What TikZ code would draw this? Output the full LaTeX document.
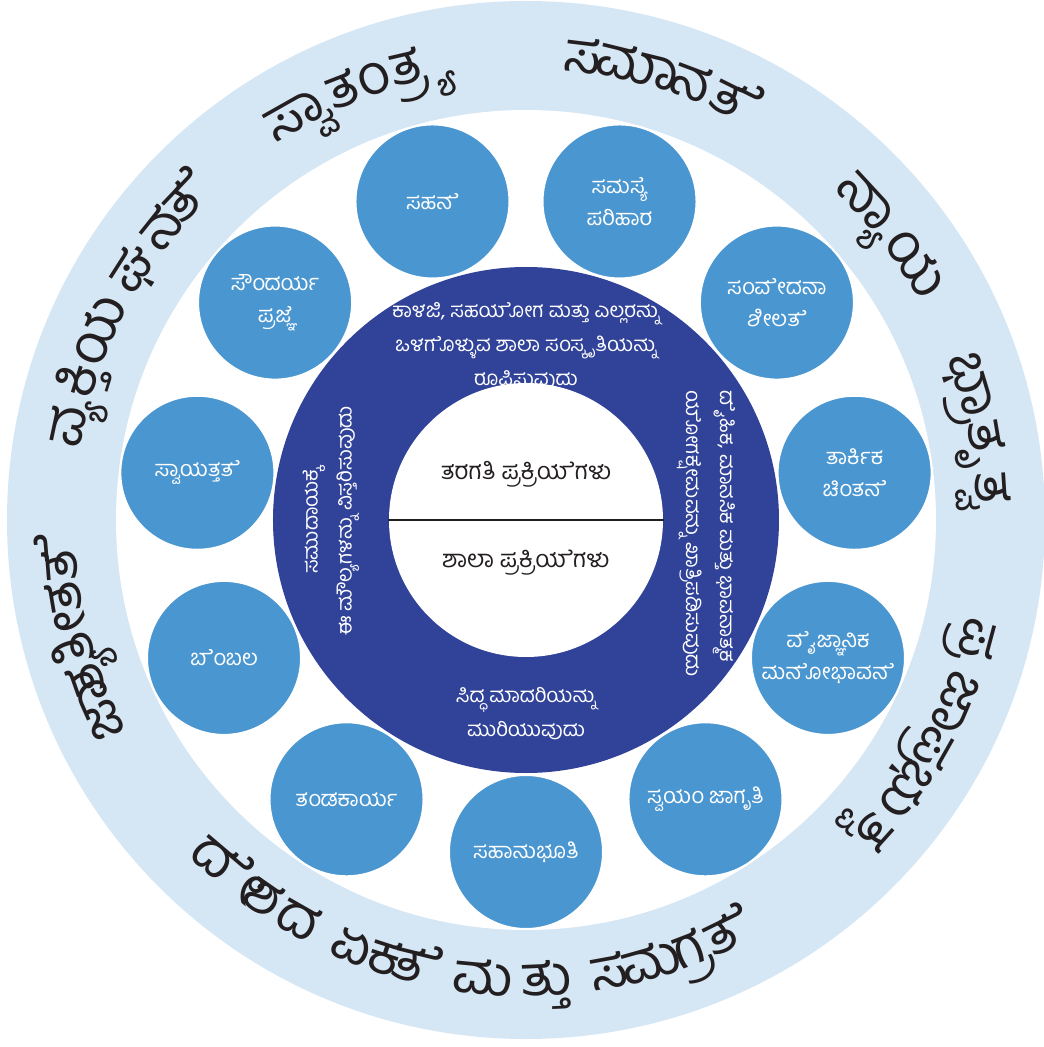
\documentclass[tikz,border=0pt]{standalone}
\usepackage{fontspec}
\newfontfamily\kn[Script=Kannada]{Hind Mysuru}
\definecolor{ringlight}{HTML}{D5E6F4}
\definecolor{circblue}{HTML}{4A96D0}
\definecolor{ringdark}{HTML}{314299}
\definecolor{inkdark}{HTML}{231F20}
\newcommand\outerfont{\kn\fontsize{56}{56}\selectfont}
\begin{document}
\begin{tikzpicture}[x=1pt,y=1pt,
  outertext/.style={font=\outerfont, text=inkdark, inner sep=0pt, anchor=base},
  valcircle/.style={circle, fill=circblue, draw=white, line width=2pt, minimum size=154pt, inner sep=0pt,
    text=white, align=center, font=\kn\fontsize{22}{32}\selectfont},
  ringtext/.style={text=white, inner sep=0pt, font=\kn\fontsize{20.5}{34}\selectfont},
  coretext/.style={text=inkdark, inner sep=0pt, font=\kn\fontsize{24}{28}\selectfont}]
\useasboundingbox (-526,-527) rectangle (518,520);
\begin{scope}
  \clip (-526,-527) rectangle (518,520);
  \fill[ringlight] (0,0) circle (519);
\end{scope}
\fill[white] (0,0) circle (410);
\fill[ringdark] (0,0) circle (253);
% texts on the dark ring
\node[ringtext, align=center] (rtop) at (0,174) {ಕಾಳಜಿ, ಸಹಯ^^^^200dೊ^^^^200cೕಗ ಮತ್ತು ಎಲ್ಲರನ್ನು\\ಒಳಗ^^^^200dೊಳ್ಳುವ ಶಾಲಾ ಸಂಸ್ಕೃತಿಯನ್ನು\\ರೂಪಿಸುವುದು};
\node[ringtext, align=center, rotate=90] (rleft) at (-195,-1) {ಸಮುದಾಯಕ್ಕ^^^^200dೆ\\ಈ ಮೌಲ್ಯಗಳನ್ನು ವಿಸ್ತರಿಸುವುದು};
\node[ringtext, align=left, rotate=-90, anchor=west] (rright) at (180,130) {ದ^^^^200dೈಹಿಕ, ಮಾನಸಿಕ ಮತ್ತು ಭಾವನಾತ್ಮಕ\\ಯ^^^^200dೊ^^^^200cೕಗಕ್ಷ^^^^200dೆ^^^^200cೕಮವನ್ನು ಖಾತ್ರಿಪಡಿಸುವುದು};
\node[ringtext, align=center] (rbottom) at (0,-194) {ಸಿದ್ಧ ಮಾದರಿಯನ್ನು\\ಮುರಿಯುವುದು};
% core
\fill[white] (0,0) circle (137);
\coordinate (cl) at (180:138);
\coordinate (cr) at (0:138);
\draw[line width=2pt, inkdark] (cl) -- (cr);
\node[coretext] (class) at (0,46) {ತರಗತಿ ಪ್ರಕ್ರಿಯ^^^^200dೆಗಳು};
\node[coretext] (school) at (0,-43) {ಶಾಲಾ ಪ್ರಕ್ರಿಯ^^^^200dೆಗಳು};
% value circles
\foreach \a/\t [count=\i] in {106.3636/ಸಹನ^^^^200dೆ, 139.0909/{ಸೌಂದರ್ಯ\\ಪ್ರಜ್ಞ^^^^200dೆ}, 171.8182/ಸ್ವಾಯತ್ತತ^^^^200dೆ,
  204.5455/ಬ^^^^200dೆಂಬಲ, 237.2727/ತಂಡಕಾರ್ಯ, 270/ಸಹಾನುಭೂತಿ, 302.7273/ಸ್ವಯಂ ಜಾಗೃತಿ,
  335.4545/{ವ^^^^200dೈಜ್ಞಾನಿಕ\\ಮನ^^^^200dೊ^^^^200cೕಭಾವನ^^^^200dೆ}, 8.1818/{ತಾರ್ಕಿಕ\\ಚಿಂತನ^^^^200dೆ}, 40.9091/{ಸಂವ^^^^200dೆ^^^^200cೕದನಾ\\ಶೀಲತ^^^^200dೆ},
  73.6364/{ಸಮಸ್ಯ^^^^200dೆ\\ಪರಿಹಾರ}}
  \node[valcircle] (v\i) at (\a:332) {\t};
% outer ring: clockwise words, tops outward
\foreach \a/\t [count=\i] in {168/ವ್ಯ, 162.5/ಕ್ತಿ, 156.1/ಯ, 147.4/ಘ, 141.4/ನ, 136.4/ತ^^^^200dೆ,
  119.5/ಸ್ವಾ, 111.2/ತಂ, 103.1/ತ್ರ್ಯ,
  83/ಸ, 76.2/ಮಾ, 69.4/ನ, 63.5/ತ^^^^200dೆ,
  42.7/ನ್ಯಾ, 33.4/ಯ,
  16.7/ಭ್ರಾ, 9.6/ತೃ, 3.7/ತ್ವ,
  -15/ಪ್ರ, -23.1/ಜಾ, -29.5/ಪ್ರ, -35.3/ಭು, -42/ತ್ವ,
  204/ಜಾ, 199.5/ತ್ಯ, 194.5/ತೀ, 189.5/ತ, 184.6/ತ^^^^200dೆ}{
  \pgfmathsetmacro\rot{\a-90}
  \node[outertext, rotate=\rot] (ow\i) at (\a:451) {\t};
}
% outer ring: bottom words, tops inward
\foreach \a/\t [count=\i] in {-130.3/ದ^^^^200dೆ^^^^200cೕ, -124.8/ಶ, -119.7/ದ,
  -112.2/ಏ, -107.9/ಕ, -103.8/ತ^^^^200dೆ,
  -95.3/ಮ, -87.5/ತ್ತು,
  -79.6/ಸ, -74.2/ಮ, -68.9/ಗ್ರ, -63.9/ತ^^^^200dೆ}{
  \pgfmathsetmacro\rot{\a+90}
  \node[outertext, rotate=\rot] (iw\i) at (\a:476) {\t};
}
\end{tikzpicture}
\end{document}
